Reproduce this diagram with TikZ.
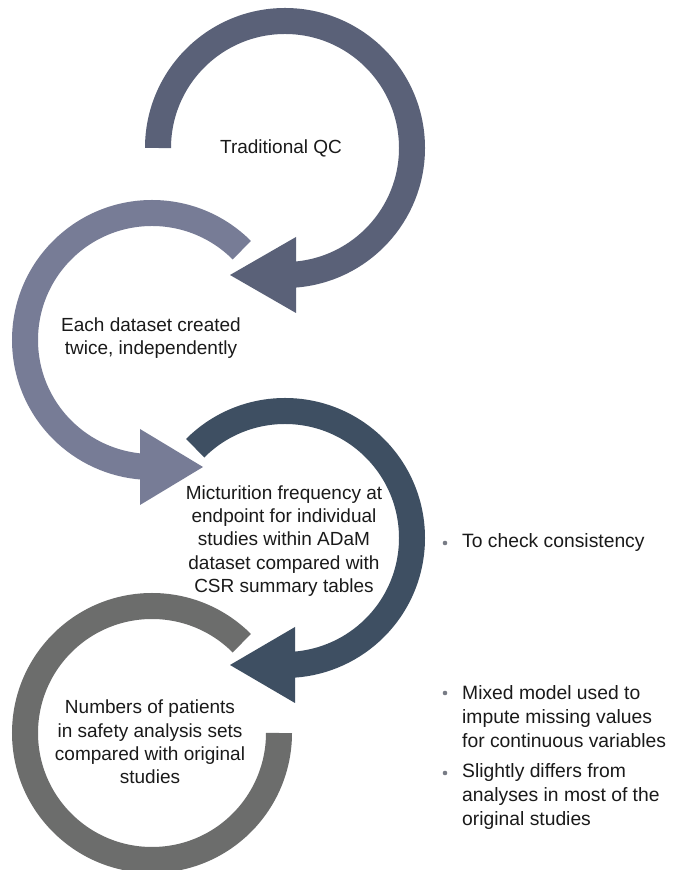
\documentclass[tikz,border=0pt]{standalone}
\usepackage{fontspec}
\setmainfont{Liberation Sans}
\usetikzlibrary{calc}
\definecolor{cA}{RGB}{90,97,120}
\definecolor{cB}{RGB}{119,124,150}
\definecolor{cC}{RGB}{62,79,98}
\definecolor{cD}{RGB}{108,109,108}
\definecolor{bulletgray}{RGB}{120,124,134}
\definecolor{txt}{RGB}{26,26,26}
\begin{document}
\begin{tikzpicture}[x=1pt,y=1pt,
  ring/.style={line width=26pt},
  lbl/.style={align=center, text=txt, font=\fontsize{19}{23.3}\selectfont, inner sep=0pt},
  blt/.style={align=left, text=txt, font=\fontsize{19.3}{24}\selectfont, inner sep=0pt, anchor=west},
  dotmark/.style={circle, fill=bulletgray, inner sep=0pt, minimum size=4.6pt}]
\useasboundingbox (0,0) rectangle (678,870);
\fill[white] (0,0) rectangle (678,870);
\clip (0,0) rectangle (678,870);
\coordinate (c1) at (285,722);
\coordinate (c2) at (152,530);
\coordinate (c3) at (285,332);
\coordinate (c4) at (152,137);
% ring 1
\draw[ring, cA] ($(c1)+(180:127)$) arc[start angle=180, end angle=-86, radius=127];
\fill[cA] ($(c1)+(-55,-127)$) -- ($(c1)+(11,-89)$) -- ($(c1)+(11,-165)$) -- cycle;
% ring 2
\draw[ring, cB] ($(c2)+(45:127)$) arc[start angle=45, end angle=266, radius=127];
\fill[cB] ($(c2)+(51,-127)$) -- ($(c2)+(-12,-89)$) -- ($(c2)+(-12,-165)$) -- cycle;
% ring 3
\draw[ring, cC] ($(c3)+(135:127)$) arc[start angle=135, end angle=-86, radius=127];
\fill[cC] ($(c3)+(-55,-127)$) -- ($(c3)+(10,-89)$) -- ($(c3)+(10,-165)$) -- cycle;
% ring 4
\draw[ring, cD] ($(c4)+(45:127)$) arc[start angle=45, end angle=360, radius=127];
% texts
\node[lbl] (t1) at (281,722) {Traditional QC};
\node[lbl] (t2) at (151,532) {Each dataset created\\twice, independently};
\node[lbl] (t3) at (284,329) {Micturition frequency at\\endpoint for individual\\studies within ADaM\\dataset compared with\\CSR summary tables};
\node[lbl] (t4) at (150,128) {Numbers of patients\\in safety analysis sets\\compared with original\\studies};
% bullets
\node[dotmark] (d1) at (445,327) {};
\node[blt] (b1) at (462,327) {To check consistency};
\node[dotmark] (d2) at (445,177) {};
\node[blt] (b2) at (462,153) {Mixed model used to\\impute missing values\\for continuous variables};
\node[dotmark] (d3) at (445,97) {};
\node[blt] (b3) at (462,73) {Slightly differs from\\analyses in most of the\\original studies};
\end{tikzpicture}
\end{document}
